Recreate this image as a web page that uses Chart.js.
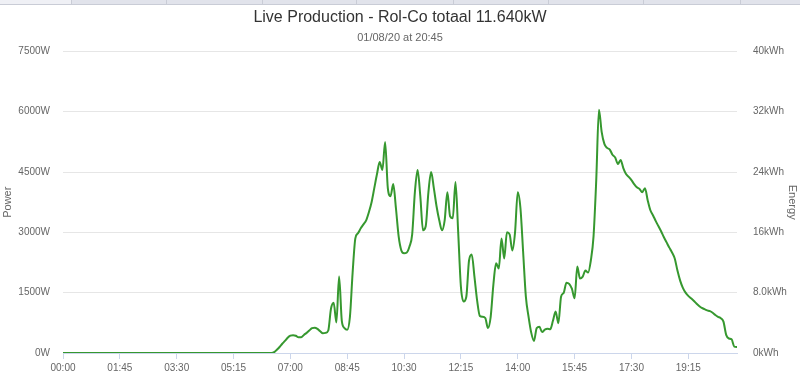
<!DOCTYPE html>
<html>
<head>
<meta charset="utf-8">
<title>Live Production</title>
<script src="https://cdn.jsdelivr.net/npm/chart.js@4"></script>
<style>
    html, body { margin: 0; padding: 0; background: #fff; }
    #wrap { position: relative; width: 800px; height: 377px; }
    #tabs { position: absolute; left: 0; top: 0; width: 800px; height: 4px; background: #e1e3eb; border-bottom: 1px solid #c9ccd6; }
    #tabs div { position: absolute; top: 0; height: 4px; border-left: 1px solid #c9ccd6; }
    #tabs .first { left: 0; width: 71px; background: #eff0f5; border-left: none; }
</style>
</head>
<body>
<div id="wrap">
    <canvas id="liveChart" width="800" height="377"></canvas>
    <div id="tabs">
        <div class="first"></div>
        <div style="left:71px"></div>
        <div style="left:166px"></div>
        <div style="left:262px"></div>
        <div style="left:356px"></div>
        <div style="left:453px"></div>
        <div style="left:548px"></div>
        <div style="left:643px"></div>
        <div style="left:740px"></div>
    </div>
</div>
<script>
// Data: one value every 5 minutes, 00:00 - 20:45
const powerW = [
    0, 0, 0, 0, 0, 0, 0, 0, 0, 0, 0, 0, 0, 0, 0, 0, 0, 0, 0, 0,
    0, 0, 0, 0, 0, 0, 0, 0, 0, 0, 0, 0, 0, 0, 0, 0, 0, 0, 0, 0,
    0, 0, 0, 0, 0, 0, 0, 0, 0, 0, 0, 0, 0, 0, 0, 0, 0, 0, 0, 0,
    0, 0, 0, 0, 0, 0, 0, 0, 0, 0, 0, 0, 0, 0, 0, 0, 0, 0, 20, 80,
    150, 230, 300, 380, 430, 440, 430, 390, 390, 450, 500, 560, 620, 630, 600, 540, 490, 500, 560, 1100,
    1250, 760, 1900, 800, 620, 580, 900, 2000, 2850, 2980, 3100, 3200, 3300, 3500, 3750, 4100, 4450, 4750, 4550, 5250,
    4100, 3900, 4200, 3600, 2900, 2550, 2480, 2500, 2650, 2950, 4000, 4550, 3900, 3050, 3150, 4000, 4500, 4100, 3650, 3300,
    3050, 3300, 4000, 3400, 3350, 4250, 3000, 1650, 1280, 1400, 2300, 2450, 1900, 1300, 920, 900, 870, 620, 900, 1700,
    2230, 2100, 2850, 2350, 3000, 2950, 2550, 3000, 4000, 3600, 2500, 1400, 900, 500, 300, 620, 650, 520, 580, 600,
    590, 800, 1030, 740, 1400, 1500, 1750, 1720, 1600, 1360, 2150, 1850, 1900, 2050, 2000, 2300, 2900, 4300, 6050, 5500,
    5200, 5100, 5060, 4930, 4860, 4700, 4800, 4600, 4450, 4380, 4300, 4200, 4120, 4080, 4000, 4100, 3800, 3550, 3420, 3280,
    3150, 3020, 2880, 2750, 2620, 2500, 2350, 2050, 1800, 1620, 1500, 1420, 1360, 1300, 1230, 1170, 1120, 1090, 1060, 1040,
    1000, 945, 900, 865, 780, 450, 360, 340, 160, 150
];

// Category labels (5 minute steps) and axis ticks
const times = [];
for (let m = 0; m <= 1245; m += 5) {
    const h = String(Math.floor(m / 60)).padStart(2, '0');
    const mm = String(m % 60).padStart(2, '0');
    times.push(h + ':' + mm);
}
const labelEvery = 21; // 105 minutes
const powerTicks = [0, 1500, 3000, 4500, 6000, 7500];
const energyTicks = [0, 8, 16, 24, 32, 40];

const FONT = "'Liberation Sans', Arial, sans-serif";

function initLiveChart() {
    const ctx = document.getElementById('liveChart').getContext('2d');
    new Chart(ctx, {
        type: 'line',
        data: {
            labels: times,
            datasets: [{
                label: 'Power',
                data: powerW,
                yAxisID: 'power',
                borderColor: '#36982f',
                borderWidth: 2,
                pointRadius: 0,
                tension: 0.4,
                cubicInterpolationMode: 'monotone',
                fill: false
            }]
        },
        options: {
            responsive: false,
            animation: false,
            layout: { padding: 0 },
            plugins: {
                legend: { display: false },
                tooltip: { enabled: false },
                title: {
                    display: true,
                    text: 'Live Production - Rol-Co totaal 11.640kW',
                    color: '#333',
                    font: { family: FONT, size: 16, weight: 'normal' },
                    padding: { top: 8, bottom: 4 }
                },
                subtitle: {
                    display: true,
                    text: '01/08/20 at 20:45',
                    color: '#666',
                    font: { family: FONT, size: 11, weight: 'normal' },
                    padding: { top: 0, bottom: 7 }
                }
            },
            scales: {
                x: {
                    grid: { drawOnChartArea: false, color: '#ccd6eb', tickLength: 6 },
                    border: { color: '#ccd6eb' },
                    ticks: {
                        autoSkip: false,
                        maxRotation: 0,
                        padding: 3,
                        color: '#666',
                        font: { family: FONT, size: 10 },
                        callback: (v, i) => (i % labelEvery === 0 ? times[i] : null)
                    }
                },
                power: {
                    position: 'left',
                    min: 0,
                    max: 7500,
                    afterBuildTicks: s => { s.ticks = powerTicks.map(v => ({ value: v })); },
                    afterFit: s => { s.width = 63; },
                    grid: { color: '#e6e6e6', drawTicks: false },
                    border: { display: false },
                    ticks: {
                        padding: 13,
                        color: '#666',
                        font: { family: FONT, size: 10 },
                        callback: v => v + 'W'
                    },
                    title: {
                        display: true,
                        text: 'Power',
                        color: '#666',
                        font: { family: FONT, size: 11 },
                        padding: { top: 1, bottom: 0 }
                    }
                },
                energy: {
                    position: 'right',
                    min: 0,
                    max: 40,
                    afterBuildTicks: s => { s.ticks = energyTicks.map(v => ({ value: v })); },
                    afterFit: s => { s.width = 63; },
                    grid: { drawOnChartArea: false, drawTicks: false },
                    border: { display: false },
                    ticks: {
                        padding: 16,
                        color: '#666',
                        font: { family: FONT, size: 10 },
                        callback: v => (v === 8 ? '8.0kWh' : v + 'kWh')
                    },
                    title: {
                        display: true,
                        text: 'Energy',
                        color: '#666',
                        font: { family: FONT, size: 11 },
                        padding: { top: 1, bottom: 0 }
                    }
                }
            }
        }
    });
}

document.addEventListener('DOMContentLoaded', function() {
    initLiveChart();
});
</script>
</body>
</html>
